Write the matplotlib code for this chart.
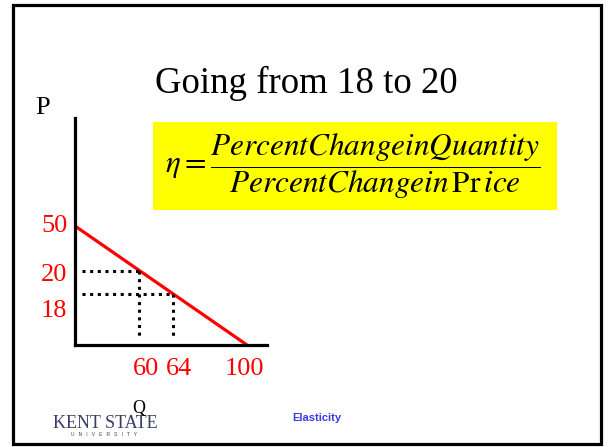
import numpy as np
import matplotlib.pyplot as plt
from matplotlib.patches import Rectangle

plt.rcParams['font.family'] = ['Liberation Serif', 'DejaVu Serif']
plt.rcParams['mathtext.fontset'] = 'stix'

# demand curve P = 50 - Q/2, two points on it
quantity = [0, 60, 64, 100]
price = [50, 20, 18, 0]
q_points = [60, 64]
p_points = [20, 18]
q_labels = ['60', '64', '100']
p_labels = ['50', '20', '18']

# the slide draws the axes out of scale: map values to drawn positions
Q_ANCHOR = [0, 60, 64, 100, 112]
X_DRAWN = [0, 64, 98, 172, 192]
P_ANCHOR = [0, 18, 20, 50, 95]
Y_DRAWN = [0, 51, 74, 119, 227]

W, H = 609, 447
fig = plt.figure(figsize=(W / 100, H / 100), dpi=100)


def fx(px):
    return px / W


def fy(py):
    return 1 - py / H


# slide border
fig.patches.append(Rectangle((fx(12.5), fy(444)), fx(588), 439.5 / H, transform=fig.transFigure,
                             fill=False, edgecolor='black', linewidth=2.3))

ax = fig.add_axes([fx(75), fy(345), fx(192), 227 / H])
ax.set_xscale('function', functions=(lambda v: np.interp(v, Q_ANCHOR, X_DRAWN),
                                     lambda v: np.interp(v, X_DRAWN, Q_ANCHOR)))
ax.set_yscale('function', functions=(lambda v: np.interp(v, P_ANCHOR, Y_DRAWN),
                                     lambda v: np.interp(v, Y_DRAWN, P_ANCHOR)))
ax.set_xlim(0, 112)
ax.set_ylim(0, 95)
for s in ['top', 'right']:
    ax.spines[s].set_visible(False)
for s in ['left', 'bottom']:
    ax.spines[s].set_linewidth(2.3)
ax.set_xticks([])
ax.set_yticks([])
ax.patch.set_alpha(0)

ax.plot([quantity[0], quantity[-1]], [price[0], price[-1]], color='red', lw=2.3,
        solid_capstyle='butt', clip_on=False)

dots = (0, (1, 1.5))
for q, p in zip(q_points, p_points):
    ax.plot([6.5, q], [p, p], color='black', lw=2.2, linestyle=dots)
    ax.plot([q, q], [p, 2.5], color='black', lw=2.2, linestyle=dots)

# price labels
p_off = [0, -3, -12]
for lab, p, off in zip(p_labels, price[:3], p_off):
    ax.annotate(lab, xy=(0, p), xycoords=('axes fraction', 'data'), xytext=(-5.5, off),
                textcoords='offset points', ha='right', va='center', color='red', fontsize=19)
# quantity labels
q_off = [5, 4.5, -2]
for lab, q, off in zip(q_labels, quantity[1:], q_off):
    ax.annotate(lab, xy=(q, 0), xycoords=('data', 'axes fraction'), xytext=(off, -17),
                textcoords='offset points', ha='center', va='center', color='red', fontsize=19)

fig.text(fx(43), fy(108), 'P', fontsize=19, ha='center', va='center')

fig.text(fx(306), fy(93), 'Going from 18 to 20', fontsize=26.5, ha='center', va='baseline')

# formula box
fig.patches.append(Rectangle((fx(153), fy(210)), fx(404), 88 / H, transform=fig.transFigure,
                             facecolor='#ffff00', edgecolor='none'))
fig.text(fx(353), fy(166),
         r'$\eta=\dfrac{PercentChangeinQuantity}{PercentChangein\,\mathrm{Pr}\,ice}$',
         fontsize=22.5, ha='center', va='center')

# footer
fig.text(fx(105), fy(428), 'KENT STATE', fontsize=13, color='#3a3d66', ha='center',
         va='baseline', family=['Liberation Serif'])
fig.text(fx(104), fy(436), 'U   N   I   V   E   R   S   I   T   Y', fontsize=3.5,
         color='#3a3d66', ha='center', va='baseline', family=['Liberation Sans'])
fig.text(fx(139), fy(408), 'Q', fontsize=13, ha='center', va='center')
fig.text(fx(317), fy(418), 'Elasticity', fontsize=8, color='#3a3ae6', ha='center',
         va='center', weight='bold', family=['Liberation Sans'])

fig.savefig('out.png', dpi=100)
